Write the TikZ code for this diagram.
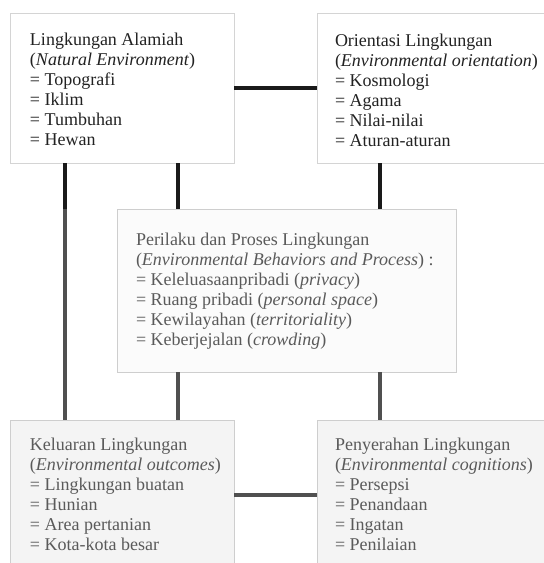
\documentclass[tikz,border=0pt]{standalone}
\usepackage{fontspec}
\setmainfont{Liberation Serif}
\definecolor{topline}{HTML}{1A1A1A}
\definecolor{lowline}{HTML}{505050}
\definecolor{topborder}{HTML}{D4D4D4}
\definecolor{lowborder}{HTML}{CECECE}
\definecolor{toptext}{HTML}{222222}
\definecolor{lowtext}{HTML}{5A5A5A}
\definecolor{lowfill}{HTML}{F4F4F4}
\begin{document}
\begin{tikzpicture}[x=1pt,y=-1pt,
  box/.style={draw=topborder, line width=0.9pt, fill=white, inner sep=0pt, outer sep=0pt, anchor=north west},
  lowbox/.style={box, draw=lowborder, fill=lowfill},
  txt/.style={inner sep=0pt, outer sep=0pt, anchor=north west, align=left, text=toptext, font=\fontsize{18}{20}\selectfont},
  lowtxt/.style={txt, text=lowtext},
  conn/.style={draw=topline, line width=4pt},
  lowconn/.style={draw=lowline, line width=4pt}]
\useasboundingbox (0,0) rectangle (544,563);
% boxes
\node[box, minimum width=224pt, minimum height=150pt] (tl) at (10,13) {};
\node[box, minimum width=235pt, minimum height=150pt] (tr) at (317,13) {};
\node[lowbox, fill=white!60!lowfill, minimum width=339pt, minimum height=163pt] (ce) at (117,209) {};
\node[lowbox, minimum width=224pt, minimum height=150pt] (bl) at (10,420) {};
\node[lowbox, minimum width=235pt, minimum height=150pt] (br) at (317,420) {};
% columns
\coordinate (xa) at (65,0);
\coordinate (xb) at (178,0);
\coordinate (xc) at (380,0);
\coordinate (ya) at (0,88);
\coordinate (yb) at (0,495);
\coordinate (fade) at (65,209);
% connectors
\draw[conn] (tl.east |- ya) -- (tr.west |- ya);
\draw[lowconn] (tl.south -| xa) -- (bl.north -| xa);
\draw[conn] (tl.south -| xa) -- (fade);
\draw[conn] (tl.south -| xb) -- (ce.north -| xb);
\draw[conn] (tr.south -| xc) -- (ce.north -| xc);
\draw[lowconn] (ce.south -| xb) -- (bl.north -| xb);
\draw[lowconn] (ce.south -| xc) -- (br.north -| xc);
\draw[lowconn] (bl.east |- yb) -- (br.west |- yb);
% texts
\node[txt] (tlt) at (30,31) {\strut Lingkungan Alamiah\\(\textit{Natural Environment})\\= Topografi\\= Iklim\\= Tumbuhan\\= Hewan};
\node[txt] (trt) at (335,32) {\strut Orientasi Lingkungan\\(\textit{Environmental orientation})\\= Kosmologi\\= Agama\\= Nilai-nilai\\= Aturan-aturan};
\node[lowtxt] (cet) at (136,231) {\strut Perilaku dan Proses Lingkungan\\(\textit{Environmental Behaviors and Process}) :\\= Keleluasaanpribadi (\textit{privacy})\\= Ruang pribadi (\textit{personal space})\\= Kewilayahan (\textit{territoriality})\\= Keberjejalan (\textit{crowding})};
\node[lowtxt] (blt) at (30,436) {\strut Keluaran Lingkungan\\(\textit{Environmental outcomes})\\= Lingkungan buatan\\= Hunian\\= Area pertanian\\= Kota-kota besar};
\node[lowtxt] (brt) at (335,436) {\strut Penyerahan Lingkungan\\(\textit{Environmental cognitions})\\= Persepsi\\= Penandaan\\= Ingatan\\= Penilaian};
\end{tikzpicture}
\end{document}
